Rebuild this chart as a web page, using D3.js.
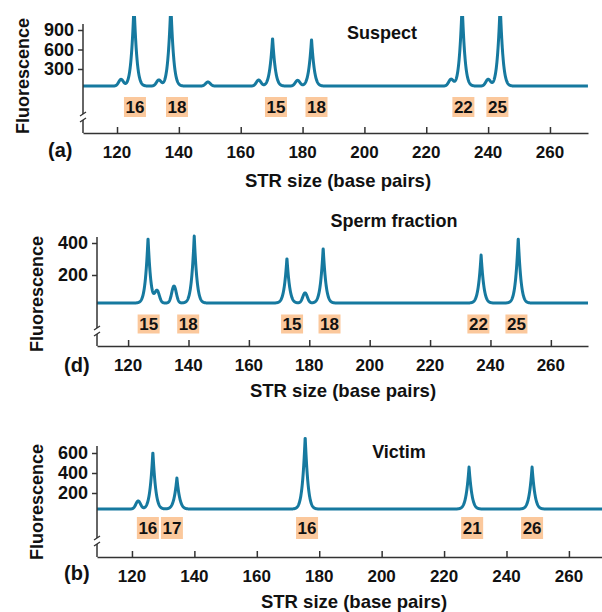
<!DOCTYPE html>
<html><head><meta charset="utf-8">
<script src="https://cdn.jsdelivr.net/npm/d3@7"></script>
<style>
body{margin:0;background:#fff;}
svg{display:block;}
text{font-family:"Liberation Sans",Arial,sans-serif;font-weight:bold;fill:#111;}
</style></head>
<body>
<svg id="chart" width="602" height="612"></svg>
<script>
// ---------- DATA ----------
const xTicks = [120, 140, 160, 180, 200, 220, 240, 260];

const suspectYTicks = [300, 600, 900];
const suspectBaseline = 38;
const suspectPeaks = [[125.5, 1300], [137.4, 1300], [170.3, 777], [182.9, 760], [231.6, 1300], [243.9, 1300]];
const suspectStutter = [[121.3, 140], [133.5, 130], [149.4, 100], [165.8, 130], [178.4, 125], [228, 140], [240, 140]];
const suspectAlleles = ["16", "18", "15", "18", "22", "25"];
const suspectAllelePos = [125.8, 139.4, 171.4, 184.5, 232, 243];

const spermYTicks = [200, 400];
const spermBaseline = 25;
const spermPeaks = [[126.6, 431], [141.9, 444], [172.6, 306], [184.6, 369], [236.9, 325], [249.2, 431]];
const spermStutter = [[129.6, 100], [135.2, 131], [178.6, 88]];
const spermAlleles = ["15", "18", "15", "18", "22", "25"];
const spermAllelePos = [126.8, 139.9, 174.3, 186.7, 236, 248.6];

const victimYTicks = [200, 400, 600];
const victimBaseline = 40;
const victimPeaks = [[126.7, 610], [134.4, 350], [175.5, 760], [228, 460], [248.2, 460]];
const victimStutter = [[122, 120]];
const victimAlleles = ["16", "17", "16", "21", "26"];
const victimAllelePos = [125.1, 132.8, 176.1, 229, 248.2];

// ---------- LAYOUT ----------
const panels = [
  {tag:"(a)", title:"Suspect", yTicks:suspectYTicks, base:suspectBaseline, peaks:suspectPeaks, stutter:suspectStutter,
   alleles:suspectAlleles, allelePos:suspectAllelePos,
   x0:83, x1:588, dom:[109, 272.3], yDom:900, yZero:88.5, yMaxPx:30,
   axisTop:24, axisY:133, breakY:117, clipTop:16, boxY:107, boxH:20,
   titleX:382, titleY:39, tagX:48, tagY:157, tickY:158, axTitleX:338, axTitleY:187, fluX:23, fluY:76},
  {tag:"(d)", title:"Sperm fraction", yTicks:spermYTicks, base:spermBaseline, peaks:spermPeaks, stutter:spermStutter,
   alleles:spermAlleles, allelePos:spermAllelePos,
   x0:97, x1:588, dom:[109.7, 272.3], yDom:400, yZero:307, yMaxPx:243,
   axisTop:237, axisY:346, breakY:331, clipTop:228, boxY:324, boxH:19,
   titleX:394, titleY:227, tagX:64, tagY:372, tickY:371, axTitleX:343, axTitleY:397, fluX:37, fluY:294},
  {tag:"(b)", title:"Victim", yTicks:victimYTicks, base:victimBaseline, peaks:victimPeaks, stutter:victimStutter,
   alleles:victimAlleles, allelePos:victimAllelePos,
   x0:97, x1:602, dom:[108.8, 270.6], yDom:600, yZero:513, yMaxPx:453,
   axisTop:446, axisY:557, breakY:541, clipTop:430, boxY:528, boxH:22,
   titleX:399, titleY:458, tagX:64, tagY:580, tickY:582, axTitleX:354, axTitleY:608, fluX:37, fluY:502}
];

const LINE = "#16799f";
const AXIS = "#333";
const BOX = "#fbc89c";
const WIDTH = 1.0;   // peak decay width (bp)
const TAIL = 2.5;    // tail cutoff (bp)
const SIGMA = 0.75;  // stutter bump width (bp)

const svg = d3.select("#chart");

panels.forEach((p, i) => {
  const x = d3.scaleLinear().domain(p.dom).range([p.x0, p.x1]);
  const y = d3.scaleLinear().domain([0, p.yDom]).range([p.yZero, p.yMaxPx]);
  const g = svg.append("g");

  // trace
  const xs = d3.range(p.dom[0], p.dom[1] + 0.001, 0.04);
  const trace = xs.map(v => {
    let s = p.base;
    p.peaks.forEach(([c, h]) => {
      const d = v - c;
      s += (h - p.base) * Math.exp(-Math.abs(d) / WIDTH) * Math.exp(-(d / TAIL) * (d / TAIL));
    });
    p.stutter.forEach(([c, h]) => { const d = (v - c) / SIGMA; s += (h - p.base) * Math.exp(-0.5 * d * d); });
    return [v, s];
  });
  const clipId = "clip" + i;
  svg.append("clipPath").attr("id", clipId).append("rect")
    .attr("x", p.x0).attr("y", p.clipTop).attr("width", p.x1 - p.x0).attr("height", p.axisY - p.clipTop);
  g.append("path").datum(trace)
    .attr("clip-path", `url(#${clipId})`)
    .attr("fill", "none").attr("stroke", LINE).attr("stroke-width", 3).attr("stroke-linejoin", "round")
    .attr("d", d3.line().x(d => x(d[0])).y(d => y(d[1])));

  // x axis (ticks pointing up)
  const xa = g.append("g").attr("transform", `translate(0,${p.axisY})`)
    .call(d3.axisTop(x).tickValues(xTicks).tickSize(6).tickSizeOuter(0).tickFormat(""));
  xa.select(".domain").attr("stroke", AXIS).attr("stroke-width", 1.5);
  xa.selectAll(".tick line").attr("stroke", AXIS).attr("stroke-width", 1.5);
  g.selectAll(".xlab").data(xTicks).enter().append("text")
    .attr("x", d => x(d)).attr("y", p.tickY).attr("text-anchor", "middle")
    .attr("font-size", 17).text(d => d);

  // y axis with break
  const ya = g.append("g").attr("transform", `translate(${p.x0},0)`)
    .call(d3.axisLeft(y).tickValues(p.yTicks).tickSize(5).tickFormat(""));
  ya.select(".domain").remove();
  ya.selectAll(".tick line").attr("stroke", AXIS).attr("stroke-width", 1.5);
  g.selectAll(".ylab").data(p.yTicks).enter().append("text")
    .attr("x", p.x0 - 9).attr("y", d => y(d)).attr("dy", "0.36em").attr("text-anchor", "end")
    .attr("font-size", 18).text(d => d);
  g.append("line").attr("x1", p.x0).attr("x2", p.x0).attr("y1", p.axisTop).attr("y2", p.breakY - 3)
    .attr("stroke", AXIS).attr("stroke-width", 1.5);
  g.append("line").attr("x1", p.x0).attr("x2", p.x0).attr("y1", p.breakY + 3).attr("y2", p.axisY)
    .attr("stroke", AXIS).attr("stroke-width", 1.5);
  [-3, 3].forEach(o => {
    g.append("line").attr("x1", p.x0 - 3).attr("x2", p.x0 + 3)
      .attr("y1", p.breakY + o + 2).attr("y2", p.breakY + o - 2)
      .attr("stroke", AXIS).attr("stroke-width", 1.3);
  });

  // allele boxes
  const bw = 22;
  const ab = g.selectAll(".allele").data(p.alleles).enter().append("g");
  ab.append("rect").attr("x", (d, j) => x(p.allelePos[j]) - bw / 2).attr("y", p.boxY - p.boxH / 2)
    .attr("width", bw).attr("height", p.boxH).attr("fill", BOX);
  ab.append("text").attr("x", (d, j) => x(p.allelePos[j])).attr("y", p.boxY).attr("dy", "0.36em")
    .attr("text-anchor", "middle").attr("font-size", 17).text(d => d);

  // texts
  g.append("text").attr("x", p.titleX).attr("y", p.titleY).attr("text-anchor", "middle")
    .attr("font-size", 18).text(p.title);
  g.append("text").attr("x", p.tagX).attr("y", p.tagY).attr("font-size", 20).text(p.tag);
  g.append("text").attr("x", p.axTitleX).attr("y", p.axTitleY).attr("text-anchor", "middle")
    .attr("font-size", 18.5).text("STR size (base pairs)");
  g.append("text").attr("transform", `translate(${p.fluX},${p.fluY}) rotate(-90)`)
    .attr("text-anchor", "middle").attr("dy", "0.36em").attr("font-size", 18).text("Fluorescence");
});
</script>
</body></html>
